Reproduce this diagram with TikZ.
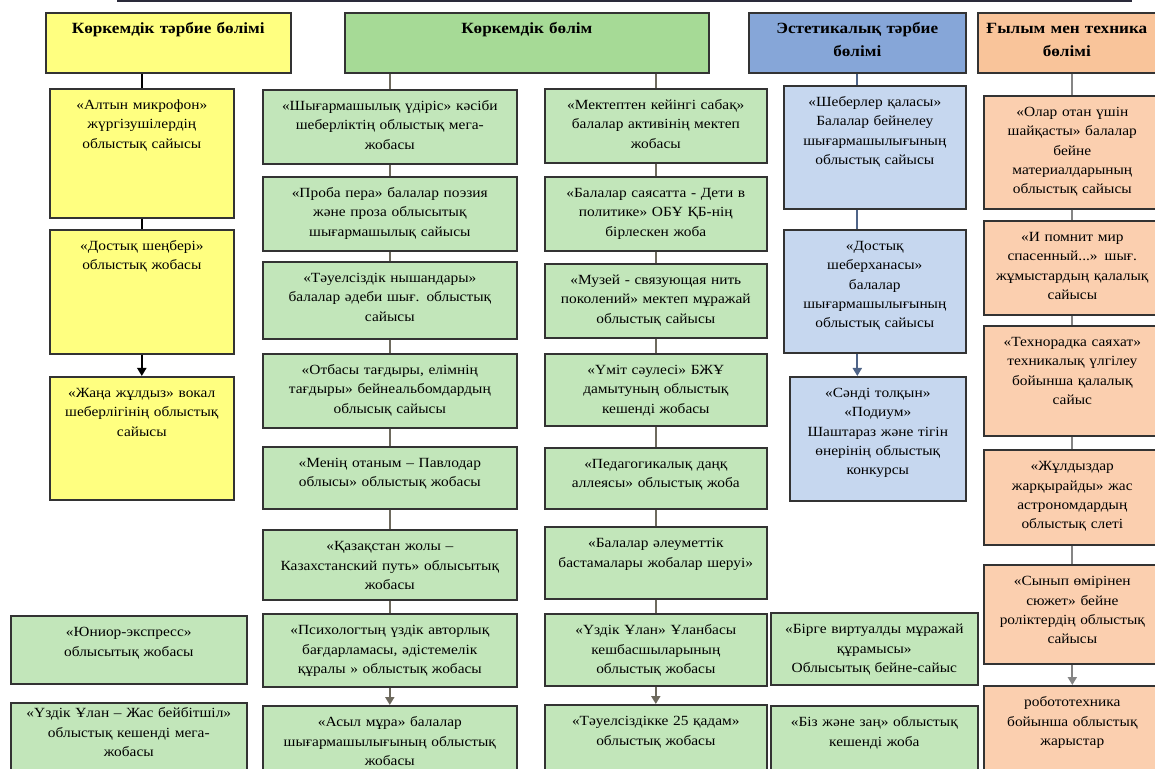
\documentclass[tikz,border=0pt]{standalone}
\usepackage{fontspec}
\setmainfont{Liberation Serif}[FakeStretch=1.1]
\usetikzlibrary{arrows.meta}

\definecolor{yfill}{HTML}{FFFF80}
\definecolor{ghead}{HTML}{A6DA96}
\definecolor{gfill}{HTML}{C2E6BA}
\definecolor{bhead}{HTML}{86A6D8}
\definecolor{bfill}{HTML}{C6D7EF}
\definecolor{ohead}{HTML}{F9C49A}
\definecolor{ofill}{HTML}{FBCFAF}
\definecolor{edge}{HTML}{333333}
\definecolor{frame}{HTML}{2A2A3A}
\definecolor{gwire}{HTML}{6E6A5E}
\definecolor{bwire}{HTML}{4F6488}
\definecolor{owire}{HTML}{858585}

\tikzset{
  box/.style={draw=edge, line width=0.8pt, anchor=north west, align=center,
    inner xsep=3pt, inner ysep=4.5pt, text height=6pt,
    font=\fontsize{7}{9.6}\selectfont},
  head/.style={box, font=\bfseries\fontsize{7.8}{11.5}\selectfont, text depth=15pt},
  ybox/.style={box, fill=yfill, text width=86pt},
  gbox/.style={box, fill=gfill, text width=121pt},
  rbox/.style={box, fill=gfill, text width=105pt},
  lbox/.style={box, fill=gfill, text width=112pt},
  cbox/.style={box, fill=gfill, text width=97.5pt},
  bbox/.style={box, fill=bfill, text width=85pt},
  obox/.style={box, fill=ofill, text width=82.5pt},
  wire/.style={line width=1pt},
  >={Triangle[length=4pt,width=4.5pt]}
}

\begin{document}
\begin{tikzpicture}[x=0.5pt,y=-0.5pt]
\useasboundingbox (0,0) rectangle (1155,769);

\node[draw=frame, line width=1pt, anchor=south west, minimum width=506.5pt,
  minimum height=40pt, inner sep=0pt] (title) at (117,2) {};

% headers
\node[head, fill=yfill, text width=116.5pt] (yhead) at (45,12) {Көркемдік тәрбие бөлімі};
\node[head, fill=ghead, text width=176pt] (ghead) at (344,12) {Көркемдік бөлім};
\node[head, fill=bhead, text width=102.5pt] (bhead) at (748,12) {Эстетикалық тәрбие\\бөлімі};
\node[head, fill=ohead, text width=83pt] (ohead) at (977,12) {Ғылым мен техника\\бөлімі};

% yellow column
\node[ybox, text depth=49.5pt] (y1) at (49,88) {«Алтын микрофон»\\жүргізушілердің\\облыстық сайысы};
\node[ybox, text depth=47pt] (y2) at (49,229) {«Достық шеңбері»\\облыстық жобасы};
\node[ybox, text depth=46.5pt] (y3) at (49,376) {«Жаңа жұлдыз» вокал\\шеберлігінің облыстық\\сайысы};

\node[lbox, text depth=19pt] (l1) at (10,615) {«Юниор-экспресс»\\облысытық жобасы};
\node[lbox, text height=3pt, text depth=27pt] (l2) at (10,702) {«Үздік Ұлан – Жас бейбітшіл»\\облыстық кешенді мега-\\жобасы};

% green column, left
\node[gbox, text depth=22pt] (g1) at (262,89) {«Шығармашылық үдіріс» кәсіби\\шеберліктің облыстық мега-\\жобасы};
\node[gbox, text depth=22pt] (g2) at (262,176) {«Проба пера» балалар поэзия\\және проза облысытық\\шығармашылық сайысы};
\node[gbox, text depth=23.5pt] (g3) at (262,261) {«Тәуелсіздік нышандары»\\балалар әдеби шығ. облыстық\\сайысы};
\node[gbox, text depth=22pt] (g4) at (262,353) {«Отбасы тағдыры, елімнің\\тағдыры» бейнеальбомдардың\\облысық сайысы};
\node[gbox, text depth=16pt] (g5) at (262,446) {«Менің отаным – Павлодар\\облысы» облыстық жобасы};
\node[gbox, text depth=20pt] (g6) at (262,529) {«Қазақстан жолы –\\Казахстанский путь» облысытық\\жобасы};
\node[gbox, text depth=21.5pt] (g7) at (262,613) {«Психологтың үздік авторлық\\бағдарламасы, әдістемелік\\құралы » облыстық жобасы};
\node[gbox, text depth=22.5pt] (g8) at (262,705) {«Асыл мұра» балалар\\шығармашылығының облыстық\\жобасы};

% green column, right
\node[rbox, text depth=22pt] (r1) at (544,88) {«Мектептен кейінгі сабақ»\\балалар активінің мектеп\\жобасы};
\node[rbox, text depth=22pt] (r2) at (544,176) {«Балалар саясатта - Дети в\\политике» ОБҰ ҚБ-нің\\бірлескен жоба};
\node[rbox, text depth=22pt] (r3) at (544,263) {«Музей - связующая нить\\поколений» мектеп мұражай\\облыстық сайысы};
\node[rbox, text depth=21pt] (r4) at (544,353) {«Үміт сәулесі» БЖҰ\\дамытуның облыстық\\кешенді жобасы};
\node[rbox, text depth=15.5pt] (r5) at (544,447) {«Педагогикалық даңқ\\аллеясы» облыстық жоба};
\node[rbox, text depth=21pt] (r6) at (544,526) {«Балалар әлеуметтік\\бастамалары жобалар шеруі»};
\node[rbox, text depth=21pt] (r7) at (544,613) {«Үздік Ұлан» Ұланбасы\\кешбасшыларының\\облыстық жобасы};
\node[rbox, text depth=23pt] (r8) at (544,704) {«Тәуелсіздікке 25 қадам»\\облыстық жобасы};

% blue column
\node[bbox, text depth=46.5pt] (b1) at (783,85) {«Шеберлер қаласы»\\Балалар бейнелеу\\шығармашылығының\\облыстық сайысы};
\node[bbox, text depth=46.5pt] (b2) at (783,229) {«Достық\\шеберханасы»\\балалар\\шығармашылығының\\облыстық сайысы};
\node[bbox, text width=82pt, text depth=47pt] (b3) at (789,376) {«Сәнді толқын»\\«Подиум»\\Шаштараз және тігін\\өнерінің облыстық\\конкурсы};

\node[cbox, text depth=21pt] (c1) at (770,612) {«Бірге виртуалды мұражай\\құрамысы»\\Облысытық бейне-сайыс};
\node[cbox, text depth=22.5pt] (c2) at (770,705) {«Біз және заң» облыстық\\кешенді жоба};

% orange column
\node[obox, text depth=41.5pt] (o1) at (983,95) {«Олар отан үшін\\шайқасты» балалар\\бейне\\материалдарының\\облыстық сайысы};
\node[obox, text depth=32pt] (o2) at (983,220) {«И помнит мир\\спасенный...» шығ.\\жұмыстардың қалалық\\сайысы};
\node[obox, text depth=40pt] (o3) at (983,325) {«Технорадка саяхат»\\техникалық үлгілеу\\бойынша қалалық\\сайыс};
\node[obox, text depth=32.5pt] (o4) at (983,449) {«Жұлдыздар\\жарқырайды» жас\\астрономдардың\\облыстық слеті};
\node[obox, text depth=34.5pt] (o5) at (983,564) {«Сынып өмірінен\\сюжет» бейне\\роліктердің облыстық\\сайысы};
\node[obox, text depth=32.5pt] (o6) at (983,685) {робототехника\\бойынша облыстық\\жарыстар};

% connectors
\draw[wire] (y1 |- yhead.south) -- (y1);
\draw[wire] (y1) -- (y2);
\draw[wire,->] (y2) -- (y3);

\draw[wire, gwire] (g1 |- ghead.south) -- (g1);
\draw[wire, gwire] (r1 |- ghead.south) -- (r1);
\foreach \a/\b in {g1/g2,g2/g3,g3/g4,g4/g5,g5/g6,g6/g7,r1/r2,r2/r3,r3/r4,r4/r5,r5/r6,r6/r7}
  \draw[wire, gwire] (\a) -- (\b);
\draw[wire, gwire, ->] (g7) -- (g8);
\draw[wire, gwire, ->] (r7) -- (r8);

\draw[wire, bwire] (bhead) -- (bhead |- b1.north);
\draw[wire, bwire] (b1.south -| bhead) -- (b2.north -| bhead);
\draw[wire, bwire, ->] (b2.south -| bhead) -- (b3.north -| bhead);

\draw[wire, owire] (o1 |- ohead.south) -- (o1);
\foreach \a/\b in {o1/o2,o2/o3,o3/o4,o4/o5}
  \draw[wire, owire] (\a) -- (\b);
\draw[wire, owire, ->] (o5) -- (o6);
\end{tikzpicture}
\end{document}
